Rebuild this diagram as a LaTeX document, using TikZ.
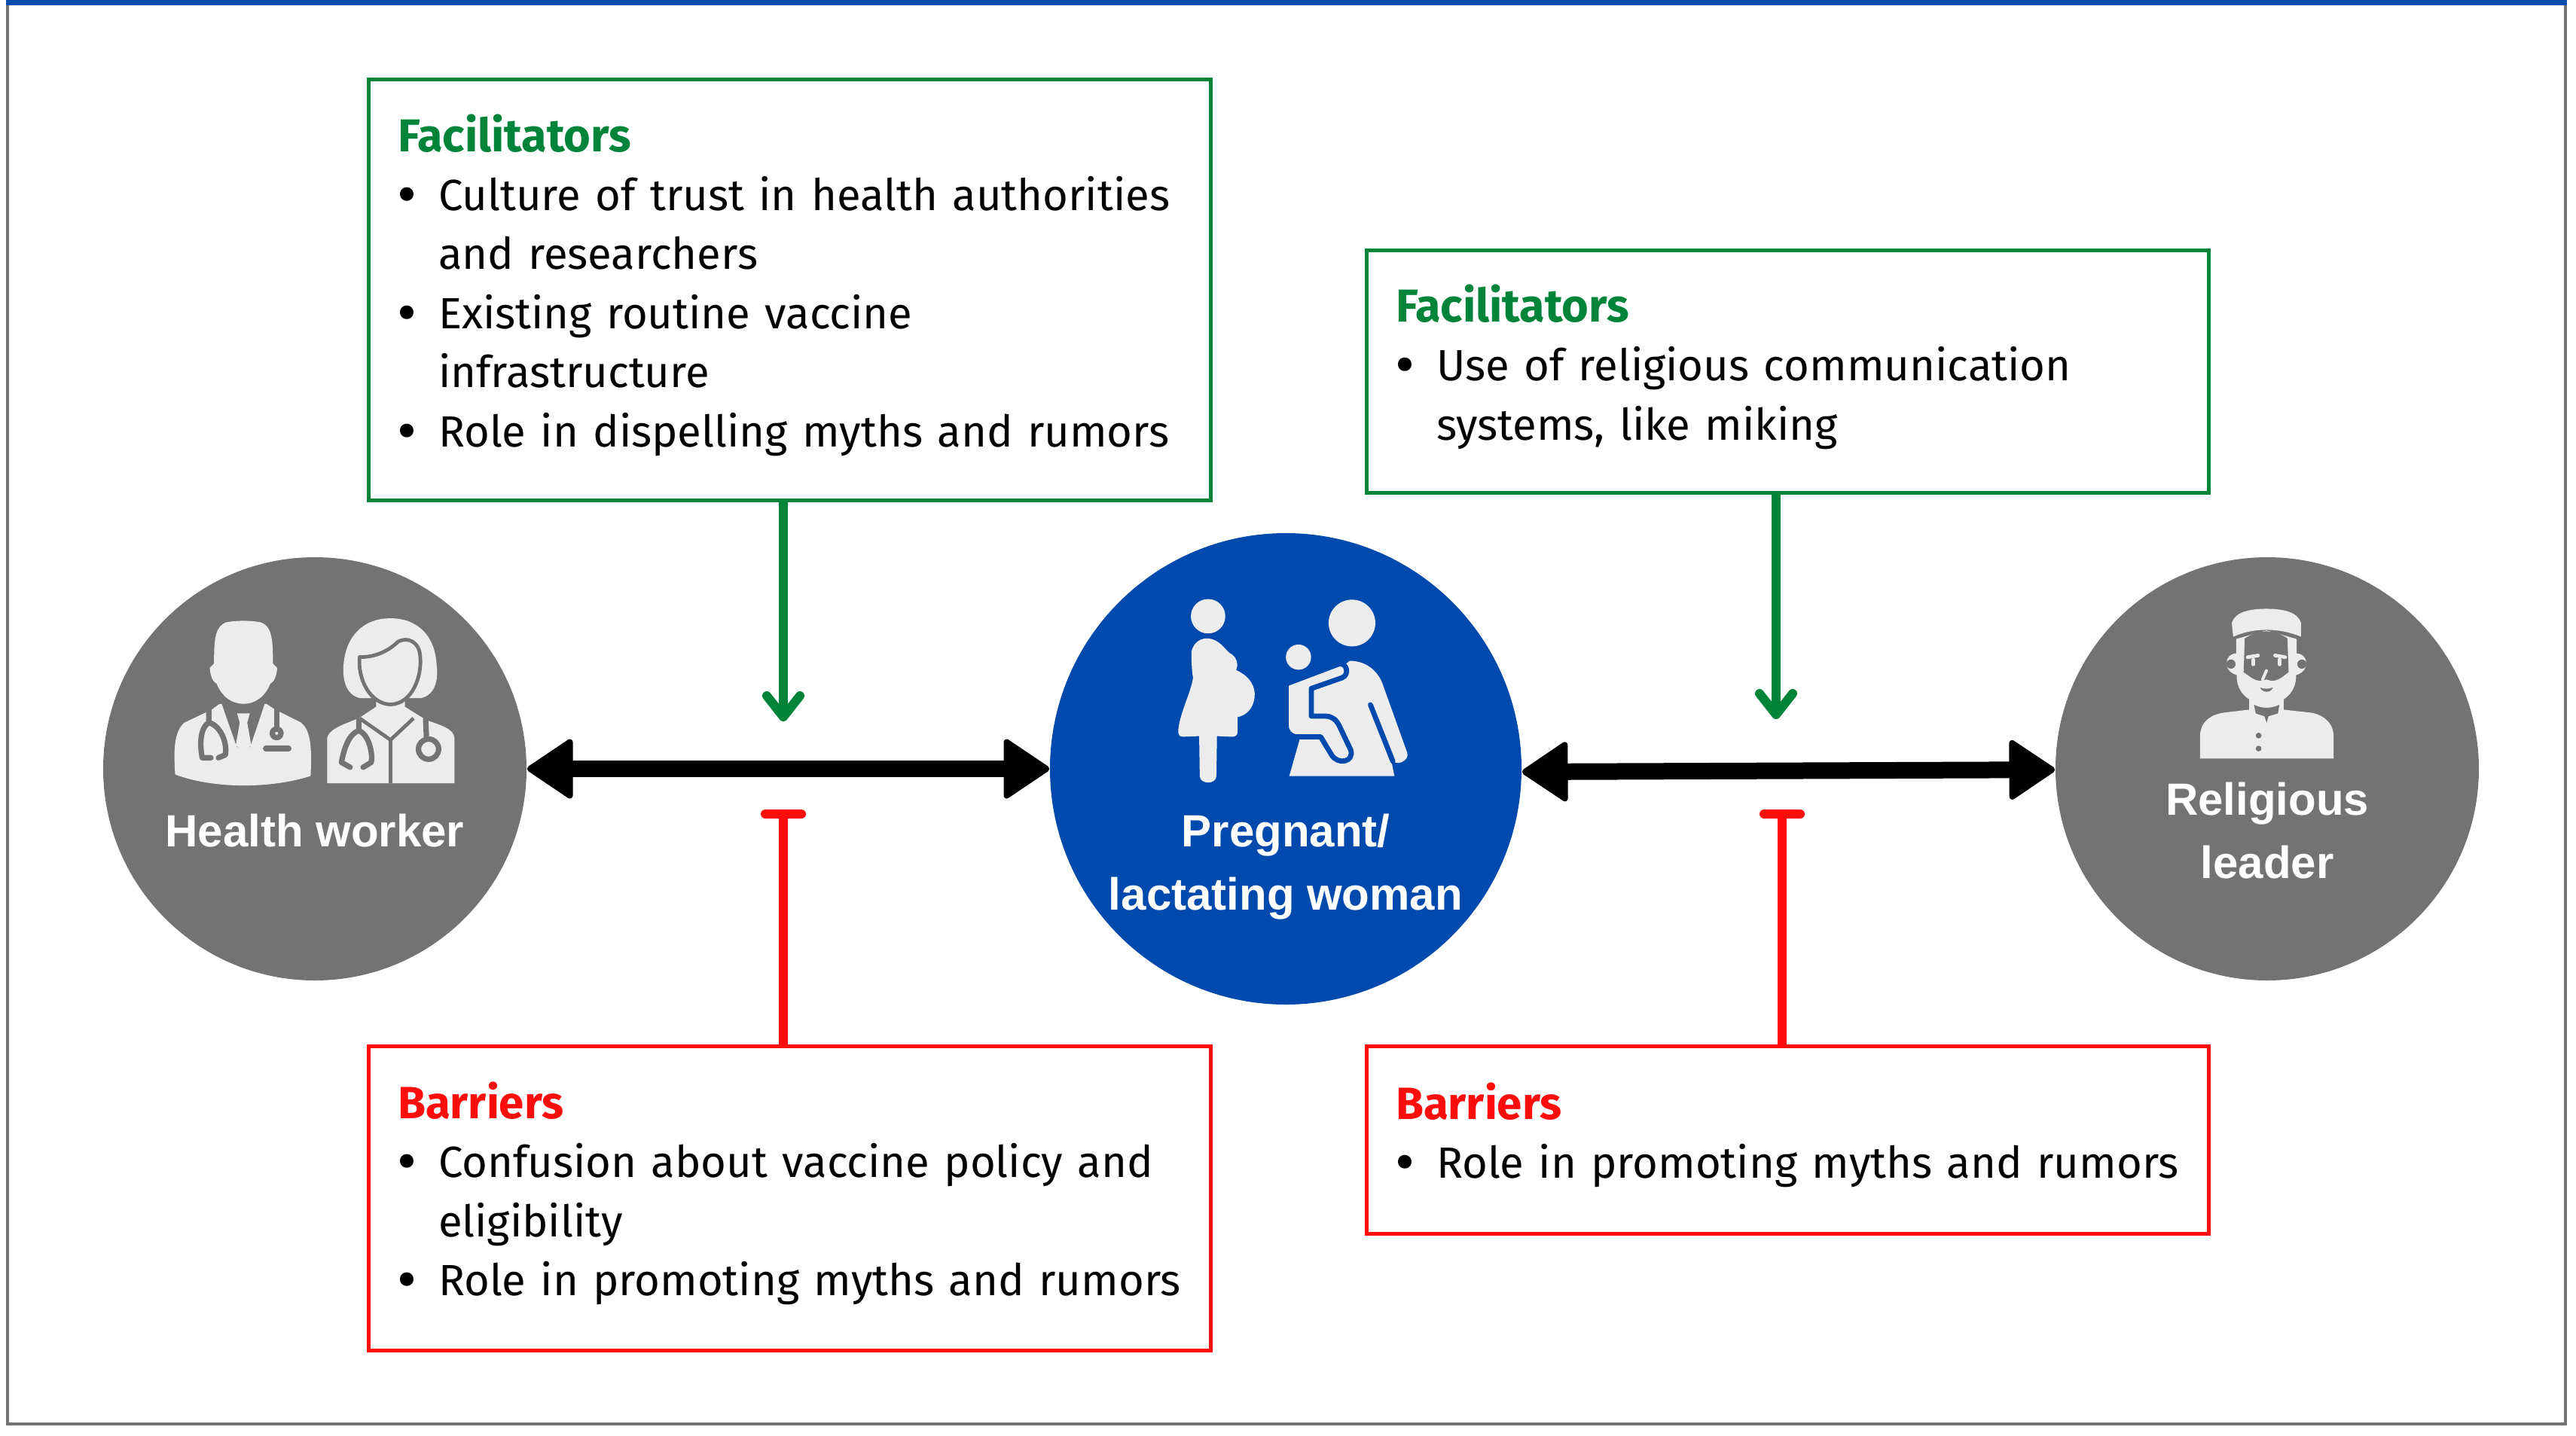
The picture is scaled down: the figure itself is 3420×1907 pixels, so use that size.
\documentclass[tikz,border=0pt]{standalone}
\usepackage{fontspec}
\setmainfont{Fira Sans}
\newfontfamily\labelfont{Liberation Sans}
\usepackage{xcolor}
\usepackage{tikz}
\usetikzlibrary{calc,arrows.meta}

\definecolor{facgreen}{RGB}{0,132,58}
\definecolor{barred}{RGB}{255,12,12}
\definecolor{hubblue}{RGB}{0,74,173}
\definecolor{rolegray}{RGB}{115,115,115}
\definecolor{iconlight}{RGB}{236,236,236}

\newcommand{\bul}[1]{\par\noindent\hangindent=13.5pt\hangafter=1\makebox[13.5pt][l]{\hspace{-0.2pt}\smash{\raisebox{-1.5pt}{\fontsize{20}{20}\selectfont\textbullet}}}#1}
\newcommand{\factitle}{\noindent{\fontsize{15.3}{19.6}\selectfont\bfseries\color{facgreen}Facilitators}}
\newcommand{\bartitle}{\noindent{\fontsize{15}{19.6}\selectfont\bfseries\color{barred}Barriers}}

\tikzset{
  infobox/.style={rectangle,line width=1.25pt,minimum width=279.5pt,inner xsep=9.75pt,inner ysep=0pt,text width=260pt,align=left,text=black,font=\fontsize{14.5}{19.6}\selectfont},
  facbox/.style={infobox,draw=facgreen},
  barbox/.style={infobox,draw=barred},
  rolecircle/.style={circle,fill=rolegray,minimum size=140.5pt,inner sep=0pt},
  hubcircle/.style={circle,fill=hubblue,minimum size=156.5pt,inner sep=0pt},
  circlelabel/.style={text=white,align=center,inner sep=0pt,font=\labelfont\bfseries\fontsize{15}{21}\selectfont},
  biarrow/.style={black,line width=5.5pt,{Triangle[length=16pt,width=21pt,line width=2pt,round]}-{Triangle[length=16pt,width=21pt,line width=2pt,round]}},
  facarrow/.style={facgreen,line width=3pt,-{Straight Barb[length=7pt,width=11pt,round]}},
  bararrow/.style={barred,line width=3pt,-{Bar[width=12pt,line width=3pt,round]}},
  iconfill/.style={fill=iconlight,draw=none},
  iconline/.style={line width=1.8pt,line cap=round,line join=round}
}

\begin{document}
\begin{tikzpicture}[x=0.25pt,y=0.25pt,yscale=-1,xscale=1]
  \useasboundingbox (0,0) rectangle (3420,1907);

  %Frame
  \draw [rolegray,line width=1pt] (10,5) rectangle (3406,1891);
  \draw [hubblue,line width=2pt] (8,3) -- (3408,3);

  %Circles
  \node [rolecircle] (health) at (418,1021) {};
  \node [hubcircle] (woman) at (1707,1021) {};
  \node [rolecircle] (leader) at (3010,1021) {};

  %Boxes
  \node [facbox,minimum height=139.75pt] (fac1) at (1048,384.5) {\factitle
    \bul{Culture of trust in health authorities\newline and researchers}
    \bul{Existing routine vaccine\newline infrastructure}
    \bul{Role in dispelling myths and rumors}\par\vspace{3pt}};
  \node [facbox,minimum height=80.5pt] (fac2) at (2373,493) {\factitle
    \bul{Use of religious communication\newline systems, like miking}\par\vspace{3pt}};
  \node [barbox,minimum height=101pt] (bar1) at (1048,1591) {\bartitle
    \bul{Confusion about vaccine policy and\newline eligibility}
    \bul{Role in promoting myths and rumors}\par\vspace{3pt}};
  \node [barbox,minimum height=62.25pt] (bar2) at (2373,1513.5) {\bartitle
    \bul{Role in promoting myths and rumors}\par\vspace{3pt}};

  %Free ends of the connectors
  \coordinate (factip1) at (1040,958);
  \coordinate (factip2) at (2358,955);
  \coordinate (bartip1) at (1040,1075);
  \coordinate (bartip2) at (2366,1075);

  %Straight Lines
  \draw [biarrow] (health) -- (woman);
  \draw [biarrow] ([yshift=1pt]woman.east) -- (leader);
  \draw [facarrow] (factip1 |- fac1.south) -- (factip1);
  \draw [facarrow] (factip2 |- fac2.south) -- (factip2);
  \draw [bararrow] (bartip1 |- bar1.north) -- (bartip1);
  \draw [bararrow] (bartip2 |- bar2.north) -- (bartip2);

  %Doctor icons
  \begin{scope}[shift={(130,730)},scale=0.3827]
    \fill [iconfill] (268,780) .. controls (262,690) and (265,630) .. (300,600) -- (395,555) -- (422,535) -- (585,535) -- (615,555) -- (705,600) .. controls (740,630) and (742,690) .. (738,785) .. controls (600,830) and (400,830) .. (268,780) -- cycle;
    \fill [rolegray] (428,530) -- (580,530) -- (528,685) -- (482,685) -- cycle;
    \fill [iconfill] (483,568) -- (527,568) -- (518,600) -- (532,680) -- (505,695) -- (478,680) -- (492,600) -- cycle;
    \fill [iconfill] (445,252) .. controls (480,245) and (530,245) .. (565,252) .. controls (600,265) and (608,300) .. (607,395) -- (622,410) .. controls (620,440) and (610,460) .. (598,465) .. controls (580,510) and (545,535) .. (505,535) .. controls (465,535) and (430,510) .. (412,465) .. controls (400,460) and (390,440) .. (388,410) -- (403,395) .. controls (402,300) and (410,265) .. (445,252) -- cycle;
    \draw [rolegray,iconline] (385,555) -- (385,600) .. controls (350,620) and (355,690) .. (362,722) -- (392,722);
    \draw [rolegray,iconline] (385,600) .. controls (425,610) and (450,670) .. (442,712) -- (418,722);
    \draw [rolegray,iconline] (620,555) -- (620,620);
    \draw [rolegray,iconline] (620,637) circle (15);
    \draw [rolegray,iconline] (582,690) -- (662,690);
    \fill [iconfill] (1015,238) .. controls (1110,238) and (1170,300) .. (1175,400) .. controls (1182,450) and (1170,505) .. (1120,515) -- (910,515) .. controls (860,505) and (848,450) .. (852,400) .. controls (860,300) and (920,238) .. (1015,238) -- cycle;
    \fill [iconfill] (795,810) -- (795,655) .. controls (800,625) and (840,610) .. (905,585) -- (965,545) -- (965,520) -- (1065,520) -- (1065,545) -- (1137,590) .. controls (1190,610) and (1235,620) .. (1237,655) -- (1237,810) -- cycle;
    \draw [rolegray,line width=1.2pt,fill=iconlight,line join=round] (908,372) .. controls (960,375) and (1010,350) .. (1040,320) .. controls (1075,300) and (1115,320) .. (1118,370) .. controls (1125,440) and (1090,535) .. (1015,537) .. controls (945,535) and (900,450) .. (908,372) -- cycle;
    \draw [rolegray,line width=1.2pt] (908,585) -- (1015,660) -- (1095,585);
    \draw [rolegray,line width=1.2pt] (1015,660) -- (1015,810);
    \draw [rolegray,iconline] (905,590) -- (905,628) .. controls (865,640) and (850,710) .. (845,738) -- (875,755);
    \draw [rolegray,iconline] (905,628) .. controls (940,640) and (955,710) .. (948,738) -- (920,755);
    \draw [rolegray,iconline] (1137,590) -- (1140,658);
    \draw [rolegray,iconline] (1147,692) circle (35);
  \end{scope}

  %Mother icons
  \begin{scope}[shift={(1390,700)},scale=0.4082]
    \fill [iconfill] (524,290) circle (56);
    \fill [iconfill] (520,362) .. controls (560,362) and (580,400) .. (595,410) .. controls (615,420) and (625,445) .. (615,465) .. controls (660,485) and (680,520) .. (675,555) .. controls (670,590) and (650,612) .. (620,618) -- (620,665) .. controls (620,680) and (610,682) .. (600,682) -- (553,680) -- (551,810) .. controls (550,838) and (498,838) .. (497,810) -- (495,680) -- (440,682) .. controls (425,682) and (425,665) .. (430,640) .. controls (440,590) and (470,530) .. (475,490) .. controls (470,460) and (470,430) .. (470,405) .. controls (475,380) and (495,362) .. (520,362) -- cycle;
    \fill [iconfill] (992,312) circle (76);
    \fill [iconfill] (818,423) circle (41);
    \fill [iconfill] (985,435) .. controls (1040,435) and (1080,470) .. (1095,520) -- (1172,735) .. controls (1180,760) and (1130,785) .. (1118,750) -- (1130,810) -- (788,810) -- (822,690) -- (870,525) -- cycle;
    \draw [hubblue,line width=1.7pt,line cap=round] (1052,578) -- (1125,762);
    \draw [hubblue,line width=1.7pt,fill=iconlight,line join=round] (778,510) -- (950,445) .. controls (975,440) and (985,480) .. (960,490) -- (860,525) -- (860,615) -- (905,615) .. controls (925,615) and (940,625) .. (950,645) -- (988,725) .. controls (1000,765) and (945,775) .. (925,740) -- (890,682) -- (810,682) .. controls (790,680) and (778,665) .. (778,645) -- cycle;
  \end{scope}

  %Leader icon
  \begin{scope}[shift={(2720,730)},scale=0.3827]
    \fill [iconfill] (640,302) -- (635,255) .. controls (645,215) and (700,205) .. (755,205) .. controls (810,205) and (865,215) .. (875,255) -- (875,302) .. controls (800,270) and (710,270) .. (640,302) -- cycle;
    \fill [iconfill] (650,310) -- (650,360) .. controls (610,360) and (600,420) .. (652,435) .. controls (650,490) and (690,535) .. (755,535) .. controls (820,535) and (860,490) .. (858,435) .. controls (910,420) and (900,360) .. (860,360) -- (860,310) -- (755,280) -- cycle;
    \fill [rolegray] (680,308) -- (676,425) .. controls (700,440) and (720,465) .. (755,450) .. controls (790,465) and (810,440) .. (832,425) -- (828,308) .. controls (780,275) and (730,275) .. (680,308) -- cycle;
    \fill [rolegray] (632,397) circle (16);
    \fill [rolegray] (878,397) circle (16);
    \draw [iconlight,line width=1.2pt,line cap=round] (690,373) -- (726,367);
    \draw [iconlight,line width=1.2pt,line cap=round] (785,367) -- (820,373);
    \draw [iconlight,line width=1.2pt,line cap=round] (710,382) -- (710,398);
    \draw [iconlight,line width=1.2pt,line cap=round] (800,382) -- (800,398);
    \draw [iconlight,line width=1pt,line cap=round] (755,420) -- (742,450);
    \fill [rolegray] (733,478) .. controls (745,484) and (765,484) .. (778,478) .. controls (770,498) and (742,498) .. (733,478) -- cycle;
    \fill [iconfill] (525,725) -- (525,640) .. controls (530,590) and (570,570) .. (610,565) -- (695,555) -- (695,520) -- (815,520) -- (815,555) -- (905,565) .. controls (950,570) and (985,600) .. (988,640) -- (988,725) -- cycle;
    \fill [rolegray] (712,538) .. controls (740,552) and (770,552) .. (800,538) -- (795,568) -- (762,578) -- (756,600) -- (748,578) -- (718,568) -- cycle;
    \fill [rolegray] (728,645) circle (10);
    \fill [rolegray] (728,690) circle (10);
  \end{scope}

  % Text Node
  \node [circlelabel] (healthlabel) at (418,1103) {Health worker};
  % Text Node
  \node [circlelabel] (womanlabel) at (1707,1151) {Pregnant/\\lactating woman};
  % Text Node
  \node [circlelabel] (leaderlabel) at (3010,1103) {Religious\\leader};
\end{tikzpicture}
\end{document}
